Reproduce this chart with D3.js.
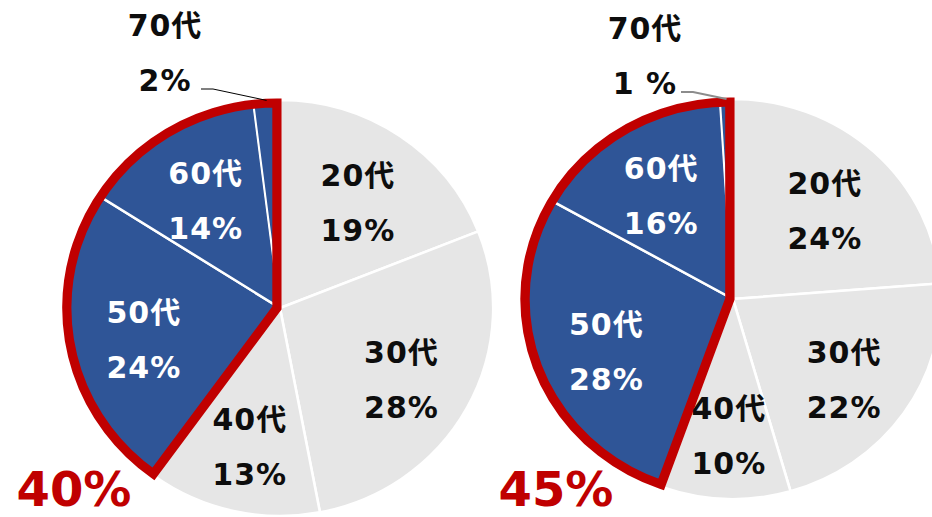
<!DOCTYPE html>
<html>
<head>
  <meta charset="utf-8">
  <script src="https://d3js.org/d3.v7.min.js"></script>
  <style>
    body { margin: 0; background: #fff; }
    text { font-family: "DejaVu Sans", "Noto Sans CJK JP", sans-serif; font-weight: bold; }
  </style>
</head>
<body>
<script type="text/javascript">
  var w = 932;
  var h = 517;

  // data
  var ages = ["20代", "30代", "40代", "50代", "60代", "70代"];
  var leftValues = [19, 28, 13, 24, 14, 2];
  var rightValues = [24, 22, 10, 28, 16, 1];
  var highlighted = ["50代", "60代", "70代"]; // the red outlined group

  var gray = "#E6E6E6", blue = "#2F5597", red = "#C00000";

  // one entry per pie (layout only)
  var pies = [
    { values: leftValues, cx: 280, cy: 308, r: 208, sx: 1.025,
      outX: 165, outY: 36, pctText: "2%", leaderColor: "#000", leaderW: 1,
      bigX: 74, bigY: 506 },
    { values: rightValues, cx: 733, cy: 299, r: 200, sx: 1.04,
      outX: 645, outY: 39, pctText: "1 %", leaderColor: "#8c8c8c", leaderW: 2,
      bigX: 556, bigY: 506 }
  ];

  var svg = d3.select("body").append("svg")
    .attr("width", w)
    .attr("height", h);

  var pie = d3.pie().sort(null).value(function(d){ return d.v; });

  pies.forEach(function(p){
    var data = ages.map(function(a, i){ return { age: a, v: p.values[i] }; });
    var arcs = pie(data);
    var arc = d3.arc().innerRadius(0).outerRadius(p.r);
    var labelArc = d3.arc().innerRadius(p.r * 0.65).outerRadius(p.r * 0.65);

    var g = svg.append("g")
      .attr("transform", "translate(" + p.cx + "," + p.cy + ") scale(" + p.sx + ",1)");

    g.selectAll("path.slice")
      .data(arcs)
      .enter()
      .append("path")
      .attr("class", "slice")
      .attr("d", arc)
      .attr("fill", function(d){ return highlighted.indexOf(d.data.age) >= 0 ? blue : gray; })
      .attr("stroke", "#fff")
      .attr("stroke-width", function(d){ return d.data.age == "70代" ? 1.5 : 2.5; });

    // red outline round the highlighted group, pulled a little inside
    var hl = arcs.filter(function(d){ return highlighted.indexOf(d.data.age) >= 0; });
    var outline = d3.arc().innerRadius(0).outerRadius(p.r - 3);
    g.append("path")
      .attr("transform", "translate(-3,0)")
      .attr("d", outline({ startAngle: d3.min(hl, function(d){ return d.startAngle; }),
                           endAngle: d3.max(hl, function(d){ return d.endAngle; }) }))
      .attr("fill", "none")
      .attr("stroke", red)
      .attr("stroke-width", 9)
      .attr("stroke-linejoin", "miter");

    // labels inside slices (70代 goes outside)
    var inside = arcs.filter(function(d){ return d.data.age != "70代"; });
    var lab = svg.selectAll(null)
      .data(inside)
      .enter()
      .append("g")
      .attr("transform", function(d){
        var c = labelArc.centroid(d);
        return "translate(" + (p.cx + c[0] * p.sx) + "," + (p.cy + c[1]) + ")";
      });
    lab.append("text")
      .attr("text-anchor", "middle")
      .attr("y", -10)
      .attr("font-size", 30)
      .attr("letter-spacing", 1)
      .attr("fill", function(d){ return highlighted.indexOf(d.data.age) >= 0 ? "#fff" : "#0d0d0d"; })
      .text(function(d){ return d.data.age; });
    lab.append("text")
      .attr("text-anchor", "middle")
      .attr("y", 45)
      .attr("font-size", 30)
      .attr("letter-spacing", 1)
      .attr("fill", function(d){ return highlighted.indexOf(d.data.age) >= 0 ? "#fff" : "#0d0d0d"; })
      .text(function(d){ return d.data.v + "%"; });

    // 70代 outside label with leader line
    var last = arcs[arcs.length - 1];
    var mid = (last.startAngle + last.endAngle) / 2;
    var tipX = p.cx + Math.sin(mid) * p.r * p.sx;
    var tipY = p.cy - Math.cos(mid) * p.r;
    svg.append("text")
      .attr("x", p.outX).attr("y", p.outY)
      .attr("text-anchor", "middle")
      .attr("font-size", 30)
      .attr("letter-spacing", 1)
      .attr("fill", "#0d0d0d")
      .text(last.data.age);
    svg.append("text")
      .attr("x", p.outX).attr("y", p.outY + 55)
      .attr("text-anchor", "middle")
      .attr("font-size", 30)
      .attr("letter-spacing", 1)
      .attr("fill", "#0d0d0d")
      .text(p.pctText);
    svg.append("polyline")
      .attr("points", (p.outX + 36) + "," + (p.outY + 53) + " " + (p.outX + 48) + "," + (p.outY + 53) + " " + tipX + "," + tipY)
      .attr("fill", "none")
      .attr("stroke", p.leaderColor)
      .attr("stroke-width", p.leaderW);

    // big total of the highlighted group
    svg.append("text")
      .attr("x", p.bigX).attr("y", p.bigY)
      .attr("text-anchor", "middle")
      .attr("font-size", 48)
      .attr("fill", red)
      .text(d3.sum(hl, function(d){ return d.data.v; }) + "%");
  });
</script>
</body>
</html>
